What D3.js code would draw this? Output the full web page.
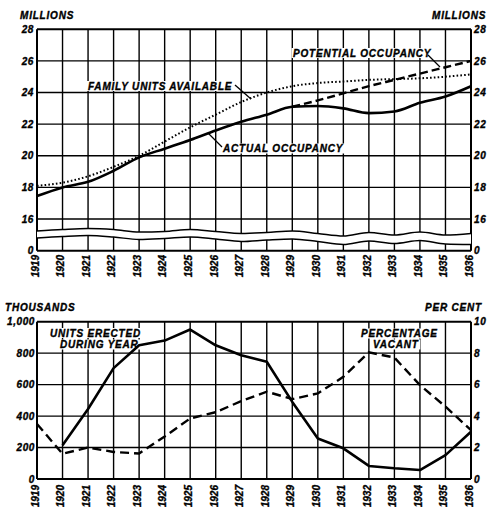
<!DOCTYPE html>
<html><head><meta charset="utf-8">
<script src="https://cdn.jsdelivr.net/npm/d3@7"></script>
<style>
html,body{margin:0;padding:0;background:#fff;}
svg text{font-family:"Liberation Sans",Arial,sans-serif;font-weight:bold;font-style:italic;fill:#000;stroke:#000;stroke-width:0.35px;}
</style></head>
<body>
<svg id="c" width="487" height="507"></svg>
<script>
// ---------- data ----------
const years = d3.range(1919, 1937);
const familyUnits = [18.1,18.3,18.7,19.3,20.0,20.9,21.8,22.6,23.4,24.0,24.4,24.6,24.7,24.8,24.85,24.9,25.0,25.15];
const actualOcc   = [17.45,18.0,18.35,19.05,19.9,20.45,21.0,21.6,22.15,22.6,23.1,23.15,23.0,22.7,22.8,23.35,23.75,24.4];
const potentialYears = [1929,1930,1931,1932,1933,1934,1935,1936];
const potentialOcc   = [23.1,23.5,23.95,24.4,24.8,25.2,25.6,26.0];
const erectedYears = d3.range(1920, 1937);
const unitsErected = [215,445,705,850,880,950,850,787,745,490,258,195,83,68,57,152,300];
const percentVacant = [3.5,1.6,2.0,1.72,1.62,2.7,3.85,4.25,4.95,5.55,5.08,5.44,6.5,8.05,7.72,5.97,4.6,3.1];
const topTicks = [0,16,18,20,22,24,26,28];
const thousandTicks = [0,200,400,600,800,1000];
const percentTicks = [0,2,4,6,8,10];
// decorative scale-break waves (pixel y)
const waveUpper = [231,229.5,228.5,229.5,232,231.5,229.5,231.5,233.5,232.5,231,233.5,236,232.5,235,232,235,233.5];
const waveLower = [238,236.5,235.5,237,239.5,238.5,237,239,241.5,240,239,241.5,244.5,241,243.5,240.5,244,244.5];

// ---------- layout ----------
const svg = d3.select("#c");
const x = d3.scaleLinear().domain([1919, 1936]).range([37, 471]);
const yTop = d3.scaleLinear().domain([0, 16, 28]).range([250.7, 219, 29.3]);
const yL = d3.scaleLinear().domain([0, 1000]).range([479, 321.7]);
const yR = d3.scaleLinear().domain([0, 10]).range([479, 321.7]);

function grid(g, yScale, ticks, y0, y1) {
  g.selectAll("line.v").data(years).join("line").attr("class","v")
    .attr("x1", d => x(d)).attr("x2", d => x(d))
    .attr("y1", y0).attr("y2", y1)
    .attr("stroke", "#000").attr("stroke-width", (d,i) => (i===0||i===years.length-1)?2:1.4);
  g.selectAll("line.h").data(ticks).join("line").attr("class","h")
    .attr("x1", x(1919)).attr("x2", x(1936))
    .attr("y1", d => yScale(d)).attr("y2", d => yScale(d))
    .attr("stroke", "#000").attr("stroke-width", (d,i) => (i===0||i===ticks.length-1)?2:1.4);
}

function yearLabels(g, yBase) {
  g.selectAll("text.yr").data(years).join("text").attr("class","yr")
    .attr("transform", d => `translate(${x(d)+1.8},${yBase}) rotate(-90)`)
    .attr("text-anchor", "end")
    .style("font-size", "10px")
    .text(d => d);
}

function sideAxis(g, axisFn, scale, ticks, xPos, fmt) {
  const a = axisFn(scale).tickValues(ticks).tickSize(0).tickPadding(0).tickFormat(fmt);
  const gg = g.append("g").attr("transform", `translate(${xPos},0)`).call(a);
  gg.select(".domain").remove();
  gg.attr("font-family", null).attr("font-size", null);
  gg.selectAll("text").style("font-size", "10px").style("letter-spacing", "0.6px");
}

function label(g, txt, xx, yy, boxed) {
  const t = g.append("text").attr("x", xx).attr("y", yy).style("font-size", "10px")
    .style("letter-spacing", "0.8px").text(txt);
  if (boxed) {
    const b = t.node().getBBox();
    g.insert("rect", () => t.node())
      .attr("x", b.x - 1.5).attr("y", b.y + 0.5).attr("width", b.width + 3).attr("height", b.height - 1)
      .attr("fill", "#fff");
  }
}
const leader = (g, x1,y1,x2,y2) => g.append("line").attr("x1",x1).attr("y1",y1).attr("x2",x2).attr("y2",y2)
  .attr("stroke","#000").attr("stroke-width",1.3);

// ---------- top chart ----------
const gTop = svg.append("g");
grid(gTop, yTop, topTicks, yTop(28), yTop(0));

// scale break band
const waveLine = d3.line().x((d,i) => x(years[i])).y(d => d).curve(d3.curveMonotoneX);
const area = d3.area().x((d,i) => x(years[i])).y0((d,i) => waveUpper[i]).y1((d,i) => waveLower[i]).curve(d3.curveMonotoneX);
gTop.append("path").datum(waveUpper).attr("d", area).attr("fill", "#fff");
gTop.append("path").datum(waveUpper).attr("d", waveLine).attr("fill","none").attr("stroke","#000").attr("stroke-width",1.5);
gTop.append("path").datum(waveLower).attr("d", waveLine).attr("fill","none").attr("stroke","#000").attr("stroke-width",1.5);

const gTopLabels = gTop.append("g");
label(gTopLabels, "FAMILY UNITS AVAILABLE", 88, 89.5, true);
label(gTopLabels, "ACTUAL OCCUPANCY", 223, 152, true);
label(gTopLabels, "POTENTIAL OCCUPANCY", 293, 56.5, true);
leader(gTopLabels, 235, 85, 251, 99);
leader(gTopLabels, 208, 133, 222, 147);
leader(gTopLabels, 428, 55, 440, 67);

const lineTop = d3.line().x(d => x(d[0])).y(d => yTop(d[1])).curve(d3.curveMonotoneX);
gTop.append("path").datum(years.map((y,i)=>[y,familyUnits[i]])).attr("d", lineTop)
  .attr("fill","none").attr("stroke","#000").attr("stroke-width",2).attr("stroke-dasharray","1.6 2.2");
gTop.append("path").datum(years.map((y,i)=>[y,actualOcc[i]])).attr("d", lineTop)
  .attr("fill","none").attr("stroke","#000").attr("stroke-width",2.6);
gTop.append("path").datum(potentialYears.map((y,i)=>[y,potentialOcc[i]])).attr("d", lineTop)
  .attr("fill","none").attr("stroke","#000").attr("stroke-width",2.4).attr("stroke-dasharray","8 4");

sideAxis(gTop, d3.axisLeft, yTop, topTicks, 34, d3.format("d"));
sideAxis(gTop, d3.axisRight, yTop, topTicks, 474, d3.format("d"));
yearLabels(gTop, 255);
label(gTop, "MILLIONS", 20, 19);
label(gTop, "MILLIONS", 432, 19);

// ---------- bottom chart ----------
const gBot = svg.append("g");
grid(gBot, yL, thousandTicks, yL(1000), yL(0));
const gBotLabels = gBot.append("g");
label(gBotLabels, "UNITS ERECTED", 50, 336.5, true);
label(gBotLabels, "DURING YEAR", 60, 348, true);
label(gBotLabels, "PERCENTAGE", 361, 337, true);
label(gBotLabels, "VACANT", 373, 348, true);

const lineL = d3.line().x(d => x(d[0])).y(d => yL(d[1]));
const lineR = d3.line().x(d => x(d[0])).y(d => yR(d[1]));
gBot.append("path").datum(erectedYears.map((y,i)=>[y,unitsErected[i]])).attr("d", lineL)
  .attr("fill","none").attr("stroke","#000").attr("stroke-width",2.6).attr("stroke-linejoin","round");
gBot.append("path").datum(years.map((y,i)=>[y,percentVacant[i]])).attr("d", lineR)
  .attr("fill","none").attr("stroke","#000").attr("stroke-width",2.4).attr("stroke-dasharray","9 5");

sideAxis(gBot, d3.axisLeft, yL, thousandTicks, 35, d3.format(","));
sideAxis(gBot, d3.axisRight, yR, percentTicks, 474, d3.format("d"));
yearLabels(gBot, 485);
label(gBot, "THOUSANDS", 5, 311);
label(gBot, "PER CENT", 425, 311);
</script>
</body></html>
